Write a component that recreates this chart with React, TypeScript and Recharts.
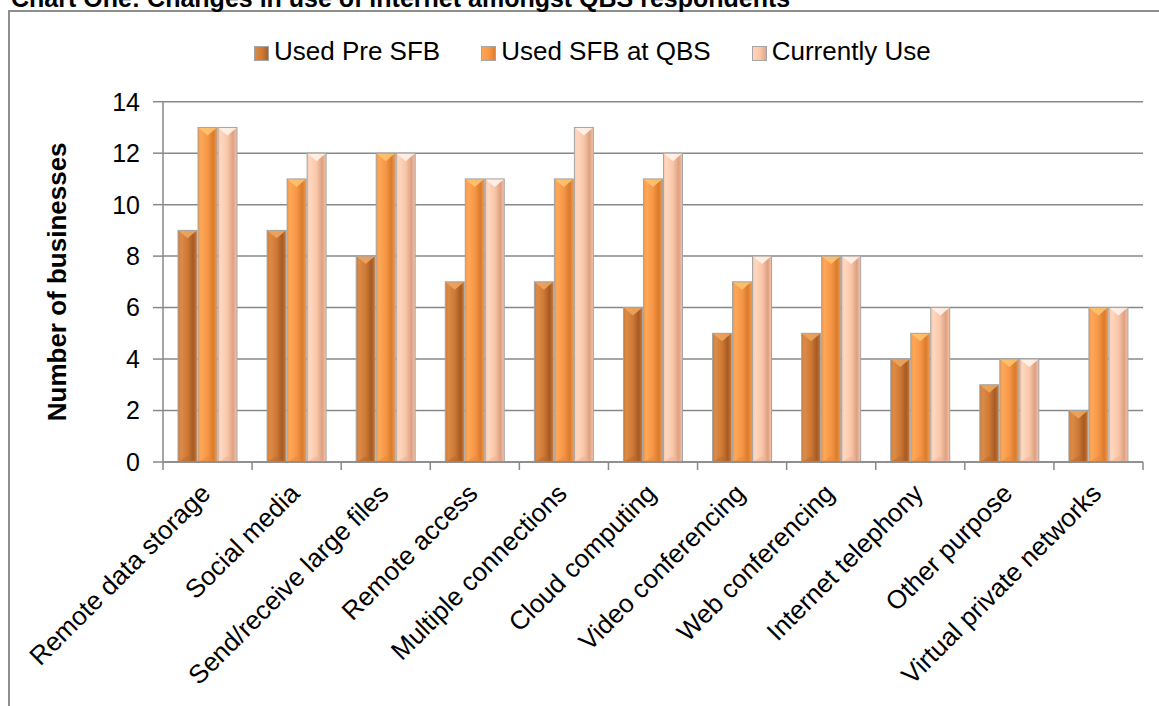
import React from 'react';
import { BarChart, Bar, XAxis, YAxis, CartesianGrid, Legend } from 'recharts';

const categories = [
  'Remote data storage',
  'Social media',
  'Send/receive large files',
  'Remote access',
  'Multiple connections',
  'Cloud computing',
  'Video conferencing',
  'Web conferencing',
  'Internet telephony',
  'Other purpose',
  'Virtual private networks',
];
const usedPreSFB = [9, 9, 8, 7, 7, 6, 5, 5, 4, 3, 2];
const usedSFBatQBS = [13, 11, 12, 11, 11, 11, 7, 8, 5, 4, 6];
const currentlyUse = [13, 12, 12, 11, 13, 12, 8, 8, 6, 4, 6];
const seriesNames = ['Used Pre SFB', 'Used SFB at QBS', 'Currently Use'];
const seriesKeys = ['pre', 'sfb', 'cur'];
const yTicks = [0, 2, 4, 6, 8, 10, 12, 14];

const data = categories.map((name, i) => ({
  name,
  pre: usedPreSFB[i],
  sfb: usedSFBatQBS[i],
  cur: currentlyUse[i],
}));

const seriesStyles = [
  { light: '#DC8B46', mid: '#CE7935', dark: '#A65A23', cap: '#EDA55E', base: '#B8672B' },
  { light: '#FCA858', mid: '#F79646', dark: '#D97B2D', cap: '#FDC36F', base: '#E58736' },
  { light: '#FED7C0', mid: '#FAC6A8', dark: '#DCA082', cap: '#FFF3EA', base: '#E8B193' },
];

const FONT = '"Liberation Sans", Arial, Helvetica, sans-serif';
const GRID = '#888888';

const makeShape = (si: number) => (props: any) => {
  const { x, y, width, height } = props;
  if (!height || height <= 0) return <g />;
  const s = seriesStyles[si];
  const cap = Math.min(width * 0.42, height);
  return (
    <g>
      <rect x={x} y={y} width={width} height={height} fill={`url(#barGrad${si})`} />
      <polygon
        points={`${x},${y} ${x + width},${y} ${x + width / 2},${y + cap}`}
        fill={s.cap}
        opacity={0.9}
      />
      <polygon
        points={`${x},${y + height} ${x + width / 2},${y + height - width * 0.3} ${x + width},${y + height}`}
        fill={s.base}
        opacity={0.5}
      />
      <rect x={x} y={y} width={width} height={height} fill="none" stroke="#a5a5a5" strokeWidth={1} />
    </g>
  );
};

const XTick = (props: any) => {
  const { x, y, payload, index } = props;
  const off = payload && typeof payload.offset === 'number' ? payload.offset : 0;
  return (
    <g>
      <line x1={x - off} y1={y} x2={x - off} y2={y + 8} stroke={GRID} strokeWidth={1.5} />
      {index === categories.length - 1 ? (
        <line x1={x + off} y1={y} x2={x + off} y2={y + 8} stroke={GRID} strokeWidth={1.5} />
      ) : null}
      <text
        x={x + 4.5}
        y={y + 33}
        transform={`rotate(-45, ${x + 4.5}, ${y + 33})`}
        textAnchor="end"
        fontSize={26}
        fontFamily={FONT}
        fill="#000"
      >
        {payload.value}
      </text>
    </g>
  );
};

const YTitle = (props: any) => {
  const vb = props.viewBox || { x: 0, y: 0, width: 0, height: 0 };
  const cx = vb.x + 57.5;
  const cy = vb.y + vb.height / 2;
  return (
    <text
      x={cx}
      y={cy}
      transform={`rotate(-90, ${cx}, ${cy})`}
      textAnchor="middle"
      dominantBaseline="central"
      fontSize={26}
      fontWeight="bold"
      fontFamily={FONT}
      fill="#000"
    >
      Number of businesses
    </text>
  );
};

const LegendContent = () => (
  <div
    style={{
      display: 'flex',
      alignItems: 'center',
      fontFamily: FONT,
      fontSize: 26,
      lineHeight: '26px',
      color: '#000',
      whiteSpace: 'nowrap',
    }}
  >
    {seriesNames.map((n, i) => {
      const s = seriesStyles[i];
      return (
        <div key={n} style={{ display: 'flex', alignItems: 'center', marginRight: i < 2 ? 41 : 0 }}>
          <span
            style={{
              display: 'inline-block',
              width: 15,
              height: 15,
              marginRight: 5,
              position: 'relative',
              top: 2,
              background: `linear-gradient(to right, ${s.light}, ${s.mid} 55%, ${s.dark})`,
              boxShadow: 'inset 0 0 0 1px #a5a5a5',
            }}
          />
          <span>{n}</span>
        </div>
      );
    })}
  </div>
);

export default function App() {
  return (
    <div
      style={{
        position: 'absolute',
        left: 0,
        top: 0,
        width: 1159,
        height: 706,
        overflow: 'hidden',
        background: '#fff',
      }}
    >
      <div
        style={{
          position: 'absolute',
          left: 8,
          top: 10,
          width: 1151,
          height: 696,
          boxSizing: 'border-box',
          borderLeft: '2px solid #8e8e8e',
          borderTop: '2px solid #8e8e8e',
        }}
      />
      <div
        style={{
          position: 'absolute',
          left: 11,
          top: -14,
          fontFamily: FONT,
          fontWeight: 'bold',
          fontSize: 25,
          lineHeight: '25px',
          whiteSpace: 'nowrap',
          color: '#000',
        }}
      >
        Chart One: Changes in use of internet amongst QBS respondents
      </div>
      <div style={{ position: 'absolute', left: 0, top: 0 }}>
        <BarChart
          width={1159}
          height={706}
          data={data}
          margin={{ top: 101.7, right: 16, bottom: 0, left: 0 }}
          barSize={19}
          barGap={1}
        >
          <defs>
            {seriesStyles.map((s, i) => (
              <linearGradient key={i} id={`barGrad${i}`} x1="0" y1="0" x2="1" y2="0">
                <stop offset="0" stopColor={s.mid} />
                <stop offset="0.15" stopColor={s.light} />
                <stop offset="0.5" stopColor={s.mid} />
                <stop offset="0.8" stopColor={s.dark} />
                <stop offset="1" stopColor={s.mid} />
              </linearGradient>
            ))}
          </defs>
          <CartesianGrid vertical={false} stroke={GRID} strokeWidth={1.5} />
          <XAxis
            dataKey="name"
            interval={0}
            height={244}
            tickLine={false}
            tickSize={0}
            tickMargin={0}
            axisLine={{ stroke: GRID, strokeWidth: 1.5 }}
            tick={<XTick />}
          />
          <YAxis
            width={163}
            domain={[0, 14]}
            ticks={yTicks}
            interval={0}
            tickSize={10}
            tickMargin={13}
            axisLine={{ stroke: GRID, strokeWidth: 1.5 }}
            tickLine={{ stroke: GRID, strokeWidth: 1.5 }}
            tick={{ fontSize: 25, fill: '#000', fontFamily: FONT }}
            label={<YTitle />}
          />
          <Legend
            layout="horizontal"
            verticalAlign="middle"
            align="center"
            wrapperStyle={{ top: 38, left: 254, width: 'auto' }}
            content={() => <LegendContent />}
          />
          {seriesKeys.map((k, i) => (
            <Bar
              key={k}
              dataKey={k}
              name={seriesNames[i]}
              fill={seriesStyles[i].mid}
              shape={makeShape(i)}
              isAnimationActive={false}
            />
          ))}
        </BarChart>
      </div>
    </div>
  );
}
